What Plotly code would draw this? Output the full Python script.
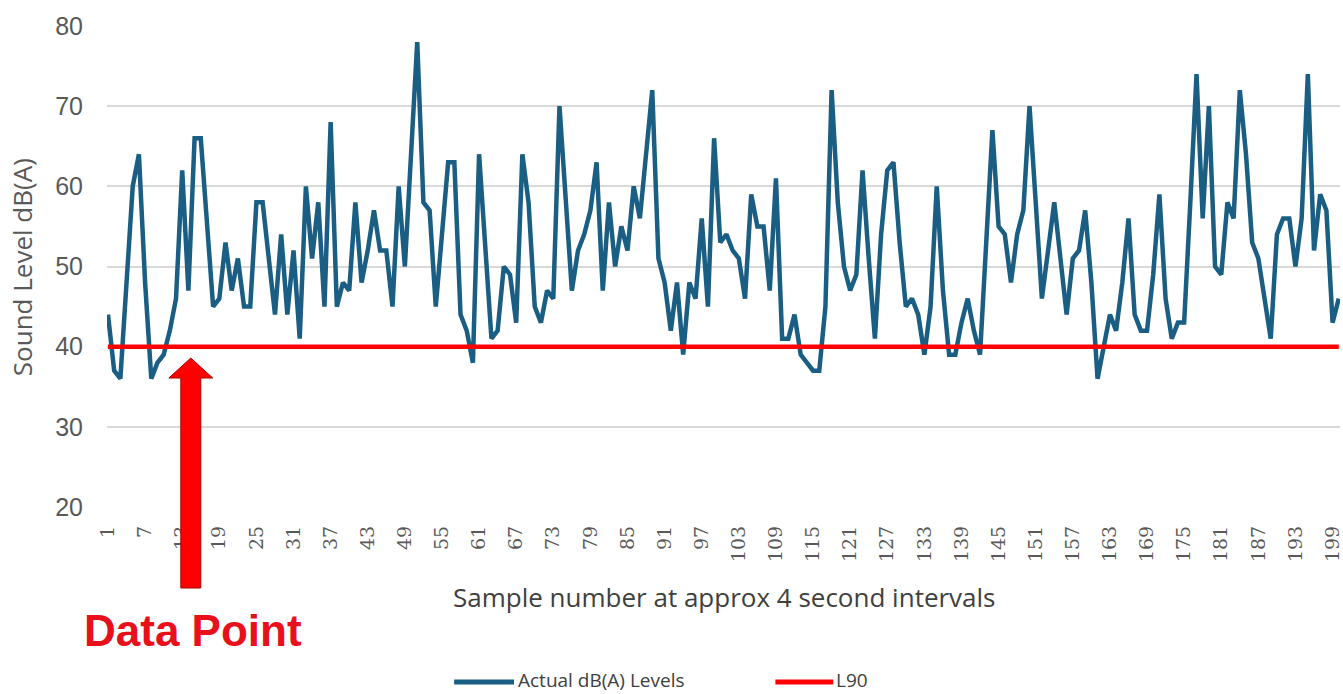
import plotly.graph_objects as go

# ---- data ----
samples = list(range(1, 201))
actual_levels = [
    44, 37, 36, 48, 60, 64, 48, 36, 38, 39,
    42, 46, 62, 47, 66, 66, 55, 45, 46, 53,
    47, 51, 45, 45, 58, 58, 51, 44, 54, 44,
    52, 41, 60, 51, 58, 45, 68, 45, 48, 47,
    58, 48, 52, 57, 52, 52, 45, 60, 50, 64,
    78, 58, 57, 45, 54, 63, 63, 44, 42, 38,
    64, 52, 41, 42, 50, 49, 43, 64, 58, 45,
    43, 47, 46, 70, 58, 47, 52, 54, 57, 63,
    47, 58, 50, 55, 52, 60, 56, 64, 72, 51,
    48, 42, 48, 39, 48, 46, 56, 45, 66, 53,
    54, 52, 51, 46, 59, 55, 55, 47, 61, 41,
    41, 44, 39, 38, 37, 37, 45, 72, 58, 50,
    47, 49, 62, 51, 41, 54, 62, 63, 53, 45,
    46, 44, 39, 45, 60, 47, 39, 39, 43, 46,
    42, 39, 52, 67, 55, 54, 48, 54, 57, 70,
    58, 46, 52, 58, 51, 44, 51, 52, 57, 48,
    36, 40, 44, 42, 48, 56, 44, 42, 42, 49,
    59, 46, 41, 43, 43, 58, 74, 56, 70, 50,
    49, 58, 56, 72, 64, 53, 51, 46, 41, 54,
    56, 56, 50, 56, 74, 52, 59, 57, 43, 46,
]
l90_level = 40
l90_values = [l90_level] * len(samples)
x_tick_values = list(range(1, 200, 6))
y_tick_values = [20, 30, 40, 50, 60, 70, 80]

series_names = ["Actual dB(A) Levels", "L90"]
series_colors = ["#1b5e83", "#ff0000"]
x_title = "Sample number at approx 4 second intervals"
y_title = "Sound Level dB(A)"
callout_text = "Data Point"

# ---- layout geometry (pixels) ----
W, H = 1343, 694
ML, MR, MT, MB = 107, 0, 26, 187
PW, PH = W - ML - MR, H - MT - MB


def px(xp):
    return (xp - ML) / PW


def py(yp):
    return (H - MB - yp) / PH


fig = go.Figure()
fig.add_trace(go.Scatter(x=samples, y=actual_levels, mode="lines", name=series_names[0],
                         line=dict(color=series_colors[0], width=4.5), showlegend=False))
fig.add_trace(go.Scatter(x=samples, y=l90_values, mode="lines", name=series_names[1],
                         line=dict(color=series_colors[1], width=4.5), showlegend=False))

fig.update_layout(
    width=W, height=H,
    margin=dict(l=ML, r=MR, t=MT, b=MB, pad=0),
    paper_bgcolor="white", plot_bgcolor="white",
    xaxis=dict(range=[0.84, 200.2], tickmode="array", tickvals=x_tick_values,
               ticktext=[str(v) for v in x_tick_values], tickangle=-90,
               showgrid=False, zeroline=False, showline=False, ticks="",
               ticklabelstandoff=14, ticklabeloverflow="allow",
               tickfont=dict(family="DejaVu Serif", size=19, color="#595959")),
    yaxis=dict(range=[20, 80], tickmode="array", tickvals=y_tick_values,
               showgrid=True, gridcolor="#d9d9d9", gridwidth=1.5, zeroline=False,
               showline=False, ticks="", ticklabelstandoff=23,
               tickfont=dict(family="Liberation Sans", size=25, color="#595959")),
)

annotations = [
    dict(text=y_title, xref="paper", yref="paper", x=px(22), y=py(267), textangle=-90,
         showarrow=False, xanchor="center", yanchor="middle",
         font=dict(family="Open Sans", size=26, color="#595959")),
    dict(text=x_title, xref="paper", yref="paper", x=px(726), y=py(597),
         showarrow=False, xanchor="center", yanchor="middle",
         font=dict(family="Open Sans", size=26, color="#404040")),
    dict(text="<b>" + callout_text + "</b>", xref="paper", yref="paper", x=px(193), y=py(630),
         showarrow=False, xanchor="center", yanchor="middle",
         font=dict(family="Liberation Sans", size=44, color="#e8101a")),
    dict(text=series_names[0], xref="paper", yref="paper", x=px(517), y=py(680),
         showarrow=False, xanchor="left", yanchor="middle",
         font=dict(family="Open Sans", size=19, color="#404040")),
    dict(text=series_names[1], xref="paper", yref="paper", x=px(836), y=py(680),
         showarrow=False, xanchor="left", yanchor="middle",
         font=dict(family="Open Sans", size=19, color="#404040")),
]
fig.update_layout(annotations=annotations)

# arrow polygon (callout)
pts = [(181, 588), (181, 378), (169, 378), (191, 358), (213, 378), (201, 378), (201, 588)]
path = "M " + " L ".join(f"{px(a):.5f},{py(b):.5f}" for a, b in pts) + " Z"
shapes = [
    dict(type="path", xref="paper", yref="paper", path=path,
         fillcolor="#ff0000", line=dict(color="#b00000", width=1)),
    dict(type="line", xref="paper", yref="paper", x0=px(455), x1=px(515), y0=py(682), y1=py(682),
         line=dict(color=series_colors[0], width=5)),
    dict(type="line", xref="paper", yref="paper", x0=px(777), x1=px(835), y0=py(682), y1=py(682),
         line=dict(color=series_colors[1], width=5)),
]
fig.update_layout(shapes=shapes)

fig.write_html("out.html")
